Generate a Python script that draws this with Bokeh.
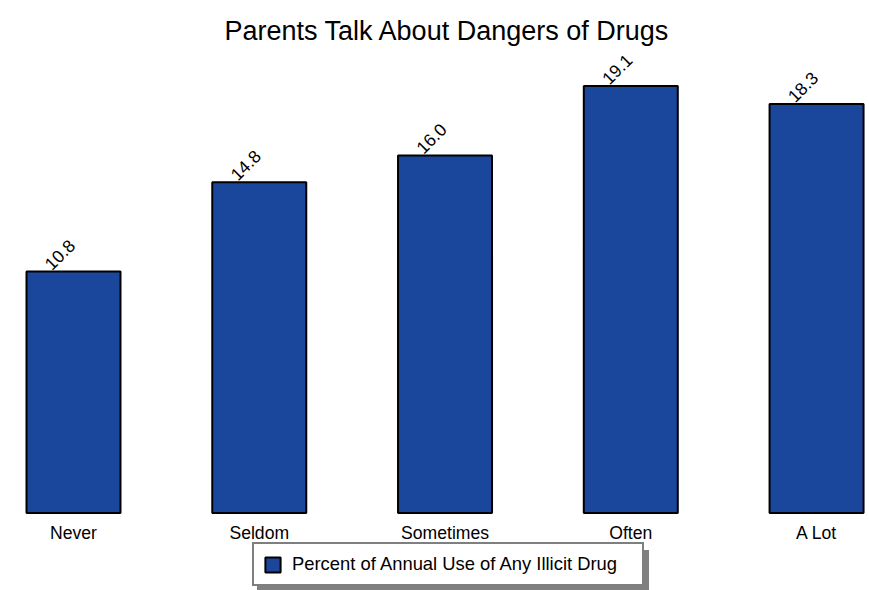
import math
from bokeh.plotting import figure
from bokeh.models import (ColumnDataSource, Range1d, FixedTicker, Legend, LegendItem)
from bokeh.core.properties import value
from bokeh.embed import file_html
from bokeh.resources import INLINE

categories = ["Never", "Seldom", "Sometimes", "Often", "A Lot"]
values = [10.8, 14.8, 16.0, 19.1, 18.3]
series_name = "Percent of Annual Use of Any Illicit Drug"
title_text = "Parents Talk About Dangers of Drugs"

FONT = "Liberation Sans"
BAR_COLOR = "#1A469C"

positions = list(range(len(categories)))
src = ColumnDataSource(dict(
    x=positions,
    top=values,
    label=[f"{v:.1f}" for v in values],
))

p = figure(width=869, height=590, output_backend="svg", toolbar_location=None,
           x_range=Range1d(-0.393, 4.285), y_range=Range1d(-3.47, 20.47),
           min_border_left=0, min_border_right=0, min_border_top=55, min_border_bottom=0,
           background_fill_color="white", border_fill_color="white")
p.outline_line_color = None
p.grid.visible = False
p.yaxis.visible = False

p.title.text = title_text
p.title.align = "left"
p.title.offset = 224
p.title.standoff = 19
p.title.text_font = FONT
p.title.text_font_size = "27px"
p.title.text_font_style = "normal"
p.title.text_color = "black"

bars = p.vbar(x="x", top="top", bottom=0, width=0.506, source=src,
              fill_color=BAR_COLOR, line_color="black", line_width=2)

p.text(x="x", y="top", text="label", source=src, angle=math.pi / 4,
       text_align="left", text_baseline="alphabetic", x_offset=-26, y_offset=-5,
       text_font=value(FONT), text_font_size="17.6px", text_color="black")

ax = p.xaxis[0]
ax.fixed_location = 0
ax.ticker = FixedTicker(ticks=positions)
ax.major_label_overrides = {i: c for i, c in zip(positions, categories)}
ax.axis_line_color = None
ax.major_tick_line_color = None
ax.minor_tick_line_color = None
ax.major_label_standoff = 4
ax.major_label_text_font = FONT
ax.major_label_text_font_size = "17.6px"
ax.major_label_text_color = "black"


def make_legend(loc, bg, border, label):
    lg = Legend(items=[LegendItem(label=label, renderers=[bars])],
                location=loc, orientation="horizontal",
                background_fill_color=bg, background_fill_alpha=1.0,
                border_line_color=border, border_line_width=2,
                padding=9, margin=0, spacing=0,
                glyph_width=19, glyph_height=19, label_standoff=10,
                label_width=341, label_height=19,
                label_text_font=FONT, label_text_font_size="18.4px",
                label_text_color="black")
    return lg


# drop shadow behind the legend box (same size, offset, grey)
shadow = make_legend((257, -1), "#808080", "#808080", " ")
main = make_legend((252, 4), "white", "black", series_name)
p.add_layout(shadow, "center")
p.add_layout(main, "center")

open("out.html", "w").write(file_html(p, INLINE))
